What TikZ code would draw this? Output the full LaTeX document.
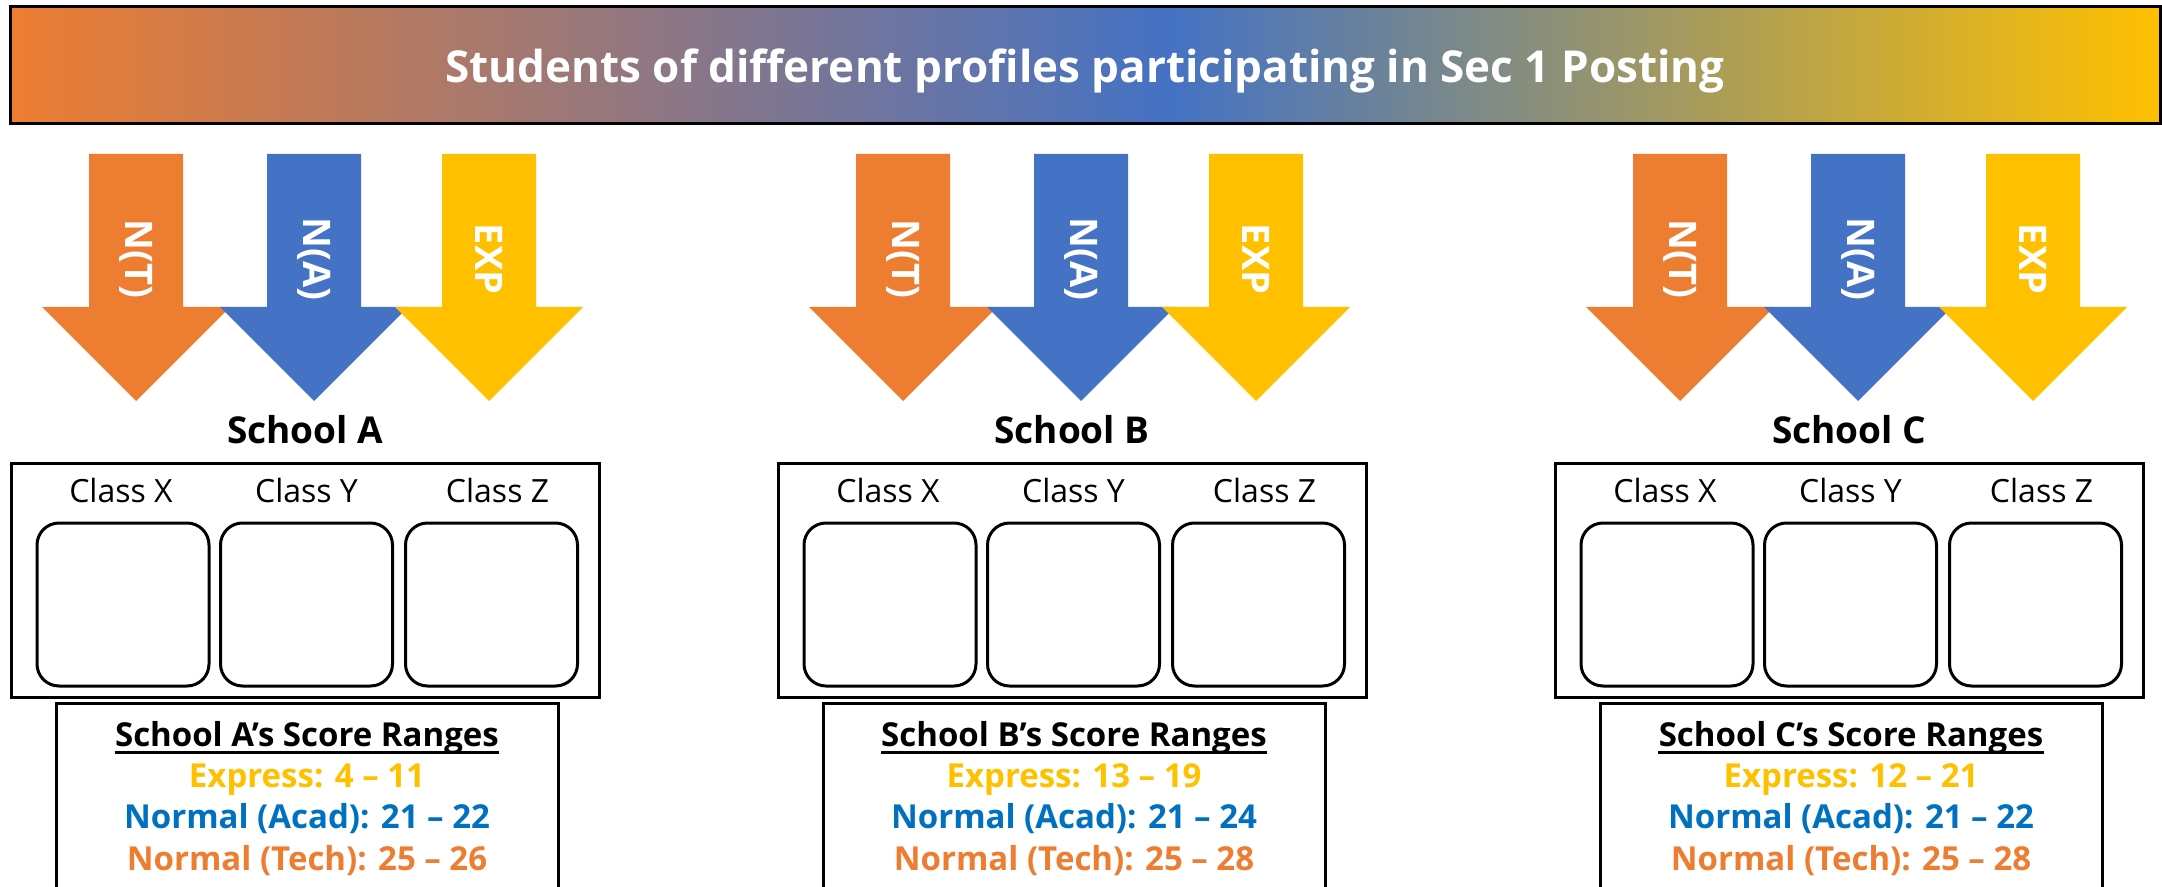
\documentclass[tikz,border=0pt]{standalone}
\usepackage{fontspec}
\setmainfont{Open Sans}
\usepackage{tikz}
\usetikzlibrary{positioning}
\usepackage{color}

\definecolor{ntorange}{HTML}{ED7D31}
\definecolor{nablue}{HTML}{4472C4}
\definecolor{expgold}{HTML}{FFC000}
\definecolor{acadblue}{HTML}{0070C0}

\tikzset{
    titletext/.style={text=white, font=\bfseries\fontsize{22}{26}\selectfont},
    arrowlabel/.style={text=white, font=\bfseries\fontsize{19}{22}\selectfont, rotate=-90},
    schoollabel/.style={font=\bfseries\fontsize{18.5}{22}\selectfont, anchor=base},
    schoolbox/.style={draw, line width=1.5pt, minimum width=294pt, minimum height=117pt},
    classbox/.style={draw, line width=1.5pt, rounded corners=11pt, minimum width=86pt, minimum height=81.5pt},
    classlabel/.style={font=\fontsize{16}{19}\selectfont, inner sep=0pt},
    scorebox/.style={draw, line width=1.5pt},
    scoreline/.style={font=\bfseries\fontsize{16.5}{20}\selectfont, anchor=base, inner sep=0pt}
}

\begin{document}
\begin{tikzpicture}[x=0.5pt, y=-0.5pt]
    \useasboundingbox (0,0) rectangle (2162,887);
    \clip (0,0) rectangle (2162,887);

    % Add the title bar
    \shade[left color=ntorange, right color=nablue] (10,7) rectangle (1171,124);
    \shade[left color=nablue, right color=expgold] (1170,7) rectangle (2160,124);
    \draw[line width=1.5pt] (10,7) rectangle (2160,124);
    \node[titletext, anchor=base] (title) at (1085,83)
        {Students of different profiles participating in Sec 1 Posting};

    % School A
    \fill[ntorange] (89,154) -- ++(94,0) -- ++(0,153) -- ++(47,0) -- ++(-94,94) -- ++(-94,-94) -- ++(47,0) -- cycle;
    \fill[nablue] (267,154) -- ++(94,0) -- ++(0,153) -- ++(47,0) -- ++(-94,94) -- ++(-94,-94) -- ++(47,0) -- cycle;
    \fill[expgold] (442,154) -- ++(94,0) -- ++(0,153) -- ++(47,0) -- ++(-94,94) -- ++(-94,-94) -- ++(47,0) -- cycle;
    \node[arrowlabel] (ant) at (136,259) {N(T)};
    \node[arrowlabel] (ana) at (314,259) {N(A)};
    \node[arrowlabel] (aexp) at (489,259) {EXP};

    \node[schoollabel] (schoola) at (305,444) {School A};
    \node[schoolbox] (boxa) at (305,580) {};
    \node[classbox] (ax) at (123,604.5) {};
    \node[classbox] (ay) at (306.5,604.5) {};
    \node[classbox] (az) at (491.5,604.5) {};
    \node[classlabel, above=9pt of ax, xshift=-1pt] {Class X};
    \node[classlabel, above=9pt of ay] {Class Y};
    \node[classlabel, above=9pt of az, xshift=3pt] {Class Z};

    \draw[scorebox] (56,703) rectangle (558,905);
    \node[scoreline] (sa) at (307,746) {School A’s Score Ranges};
    \draw[line width=1.5pt] ([yshift=-3pt]sa.base west) -- ([yshift=-3pt]sa.base east);
    \node[scoreline, text=expgold] (saexp) at (307,787) {Express: 4 – 11};
    \node[scoreline, text=acadblue] (saacad) at (307,828) {Normal (Acad): 21 – 22};
    \node[scoreline, text=ntorange] (satech) at (307,870) {Normal (Tech): 25 – 26};

    % School B
    \fill[ntorange] (856,154) -- ++(94,0) -- ++(0,153) -- ++(47,0) -- ++(-94,94) -- ++(-94,-94) -- ++(47,0) -- cycle;
    \fill[nablue] (1034,154) -- ++(94,0) -- ++(0,153) -- ++(47,0) -- ++(-94,94) -- ++(-94,-94) -- ++(47,0) -- cycle;
    \fill[expgold] (1209,154) -- ++(94,0) -- ++(0,153) -- ++(47,0) -- ++(-94,94) -- ++(-94,-94) -- ++(47,0) -- cycle;
    \node[arrowlabel] (bnt) at (903,259) {N(T)};
    \node[arrowlabel] (bna) at (1081,259) {N(A)};
    \node[arrowlabel] (bexp) at (1256,259) {EXP};

    \node[schoollabel] (schoolb) at (1072,444) {School B};
    \node[schoolbox] (boxb) at (1072,580) {};
    \node[classbox] (bx) at (890,604.5) {};
    \node[classbox] (by) at (1073.5,604.5) {};
    \node[classbox] (bz) at (1258.5,604.5) {};
    \node[classlabel, above=9pt of bx, xshift=-1pt] {Class X};
    \node[classlabel, above=9pt of by] {Class Y};
    \node[classlabel, above=9pt of bz, xshift=3pt] {Class Z};

    \draw[scorebox] (823,703) rectangle (1325,905);
    \node[scoreline] (sb) at (1074,746) {School B’s Score Ranges};
    \draw[line width=1.5pt] ([yshift=-3pt]sb.base west) -- ([yshift=-3pt]sb.base east);
    \node[scoreline, text=expgold] (sbexp) at (1074,787) {Express: 13 – 19};
    \node[scoreline, text=acadblue] (sbacad) at (1074,828) {Normal (Acad): 21 – 24};
    \node[scoreline, text=ntorange] (sbtech) at (1074,870) {Normal (Tech): 25 – 28};

    % School C
    \fill[ntorange] (1633,154) -- ++(94,0) -- ++(0,153) -- ++(47,0) -- ++(-94,94) -- ++(-94,-94) -- ++(47,0) -- cycle;
    \fill[nablue] (1811,154) -- ++(94,0) -- ++(0,153) -- ++(47,0) -- ++(-94,94) -- ++(-94,-94) -- ++(47,0) -- cycle;
    \fill[expgold] (1986,154) -- ++(94,0) -- ++(0,153) -- ++(47,0) -- ++(-94,94) -- ++(-94,-94) -- ++(47,0) -- cycle;
    \node[arrowlabel] (cnt) at (1680,259) {N(T)};
    \node[arrowlabel] (cna) at (1858,259) {N(A)};
    \node[arrowlabel] (cexp) at (2033,259) {EXP};

    \node[schoollabel] (schoolc) at (1849,444) {School C};
    \node[schoolbox] (boxc) at (1849,580) {};
    \node[classbox] (cx) at (1667,604.5) {};
    \node[classbox] (cy) at (1850.5,604.5) {};
    \node[classbox] (cz) at (2035.5,604.5) {};
    \node[classlabel, above=9pt of cx, xshift=-1pt] {Class X};
    \node[classlabel, above=9pt of cy] {Class Y};
    \node[classlabel, above=9pt of cz, xshift=3pt] {Class Z};

    \draw[scorebox] (1600,703) rectangle (2102,905);
    \node[scoreline] (sc) at (1851,746) {School C’s Score Ranges};
    \draw[line width=1.5pt] ([yshift=-3pt]sc.base west) -- ([yshift=-3pt]sc.base east);
    \node[scoreline, text=expgold] (scexp) at (1851,787) {Express: 12 – 21};
    \node[scoreline, text=acadblue] (scacad) at (1851,828) {Normal (Acad): 21 – 22};
    \node[scoreline, text=ntorange] (sctech) at (1851,870) {Normal (Tech): 25 – 28};
\end{tikzpicture}
\end{document}
